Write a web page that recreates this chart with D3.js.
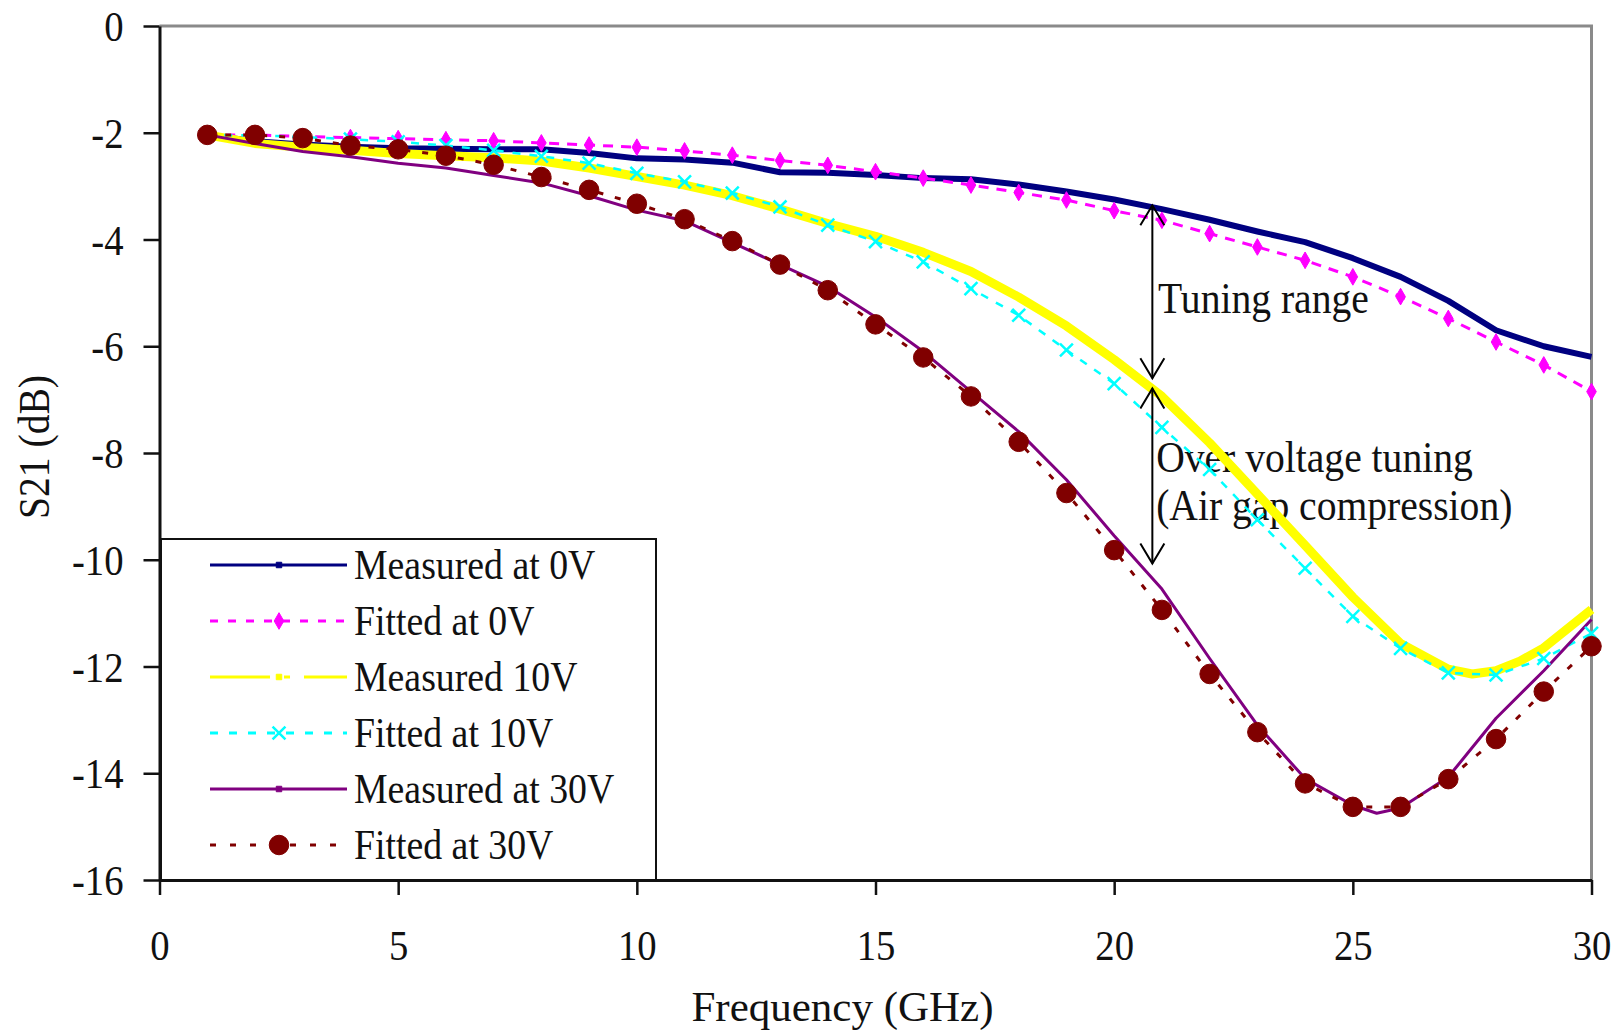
<!DOCTYPE html>
<html>
<head>
<meta charset="utf-8">
<script src="https://cdn.jsdelivr.net/npm/d3@7"></script>
<style>
  html, body { margin: 0; padding: 0; background: #fff; }
  svg { display: block; }
</style>
</head>
<body>
<svg id="chart" width="1614" height="1033"></svg>
<script>
// ---- data ----
var fitFreq = [1, 2, 3, 4, 5, 6, 7, 8, 9, 10, 11, 12, 13, 14, 15, 16, 17, 18, 19, 20, 21, 22, 23, 24, 25, 26, 27, 28, 29, 30];

var meas0Freq = [1, 2, 3, 4, 5, 6, 7, 8, 9, 10, 11, 12, 13, 14, 15, 16, 17, 18, 19, 20, 21, 22, 23, 24, 25, 26, 27, 28, 29, 30];
var meas0V = [-2.04, -2.16, -2.22, -2.26, -2.29, -2.30, -2.31, -2.31, -2.38, -2.48, -2.50, -2.56, -2.74, -2.75, -2.79,
  -2.85, -2.87, -2.97, -3.10, -3.25, -3.43, -3.63, -3.85, -4.05, -4.35, -4.70, -5.15, -5.70, -6.00, -6.20];

var fit0V = [-2.04, -2.04, -2.07, -2.09, -2.11, -2.13, -2.15, -2.19, -2.23, -2.27, -2.34, -2.42, -2.52, -2.61, -2.73,
  -2.85, -2.98, -3.12, -3.26, -3.46, -3.64, -3.89, -4.14, -4.39, -4.70, -5.07, -5.48, -5.92, -6.35, -6.85];

var meas10Freq = [1, 2, 3, 4, 5, 6, 7, 8, 9, 10, 11, 12, 13, 14, 15, 16, 17, 18, 19, 20, 21, 22, 23, 24, 25, 26, 27, 27.5, 28, 28.5, 29, 30];
var meas10V = [-2.04, -2.20, -2.27, -2.33, -2.39, -2.43, -2.47, -2.53, -2.66, -2.82, -2.98, -3.18, -3.43, -3.70, -3.94,
  -4.24, -4.60, -5.08, -5.62, -6.25, -6.94, -7.81, -8.77, -9.73, -10.70, -11.57, -12.05, -12.14, -12.08, -11.90, -11.65, -10.93];

var fit10V = [-2.04, -2.05, -2.08, -2.12, -2.17, -2.24, -2.33, -2.44, -2.57, -2.76, -2.92, -3.13, -3.39, -3.73, -4.04,
  -4.42, -4.92, -5.42, -6.07, -6.70, -7.52, -8.31, -9.25, -10.16, -11.06, -11.66, -12.12, -12.16, -11.85, -11.38];

var meas30Freq = [1, 2, 3, 4, 5, 6, 7, 8, 9, 10, 11, 12, 13, 14, 15, 16, 17, 18, 19, 20, 21, 22, 23, 24, 25, 25.5, 26, 27, 28, 29, 30];
var meas30V = [-2.04, -2.20, -2.35, -2.45, -2.57, -2.66, -2.80, -2.94, -3.18, -3.45, -3.65, -4.06, -4.47, -4.88, -5.45,
  -6.10, -6.85, -7.60, -8.50, -9.55, -10.55, -11.85, -13.10, -14.10, -14.60, -14.75, -14.65, -14.07, -12.97, -12.08, -11.12];

var fit30V = [-2.04, -2.04, -2.10, -2.24, -2.31, -2.43, -2.60, -2.83, -3.07, -3.33, -3.62, -4.03, -4.47, -4.95, -5.59,
  -6.21, -6.94, -7.79, -8.75, -9.82, -10.94, -12.14, -13.23, -14.19, -14.63, -14.63, -14.11, -13.36, -12.47, -11.62];

var seriesNames = ['Measured at 0V', 'Fitted at 0V', 'Measured 10V', 'Fitted at 10V', 'Measured at 30V', 'Fitted at 30V'];
var xTicks = [0, 5, 10, 15, 20, 25, 30];
var yTicks = [-16, -14, -12, -10, -8, -6, -4, -2, 0];

// tuning arrows: [freq, from dB, to dB]
var arrows = [[20.8, -3.36, -6.60], [20.8, -6.79, -10.07]];
// annotation texts: [freq, dB baseline, text]
var notes = [[20.92, -5.38, 'Tuning range'], [20.88, -8.35, 'Over voltage tuning'], [20.88, -9.26, '(Air gap compression)']];

!(function(d3) {
    var plot = { left: 159.5, right: 1591.5, top: 26, bottom: 880 };
    var font = '"Liberation Serif", "Times New Roman", serif';
    var squeeze = 'scale(0.9,1)';

    var svg = d3.select('#chart');

    var x = d3.scaleLinear().domain([0, 30]).range([plot.left, plot.right]);
    var y = d3.scaleLinear().domain([-16, 0]).range([plot.bottom, plot.top]);

    var zip = function(fs, vs) {
        return fs.map(function(f, i) { return [f, vs[i]]; });
    };

    var series = [
        { name: seriesNames[0], pts: zip(meas0Freq, meas0V), color: '#000080', width: 6, dash: null, legendDash: null, marker: 'square' },
        { name: seriesNames[1], pts: zip(fitFreq, fit0V), color: '#FF00FF', width: 3, dash: '10,8', legendDash: '8,10', marker: 'diamond' },
        { name: seriesNames[2], pts: zip(meas10Freq, meas10V), color: '#FFFF00', width: 9, dash: null, legendDash: '60,14,6,14', marker: 'square' },
        { name: seriesNames[3], pts: zip(fitFreq, fit10V), color: '#00FFFF', width: 2.5, dash: '8,9', legendDash: '8,11', marker: 'times' },
        { name: seriesNames[4], pts: zip(meas30Freq, meas30V), color: '#800080', width: 3, dash: null, legendDash: null, marker: 'square' },
        { name: seriesNames[5], pts: zip(fitFreq, fit30V), color: '#800000', width: 3, dash: '6,12', legendDash: '6,14', marker: 'circle' }
    ];

    var line = d3.line()
        .x(function(d) { return x(d[0]); })
        .y(function(d) { return y(d[1]); });

    var symbolPath = function(kind) {
        if (kind === 'diamond') { return d3.symbol().type(d3.symbolDiamond).size(80)(); }
        if (kind === 'times') { return d3.symbol().type(d3.symbolTimes).size(110)(); }
        if (kind === 'circle') { return d3.symbol().type(d3.symbolCircle).size(300)(); }
        return d3.symbol().type(d3.symbolSquare).size(30)();
    };

    // plot area border (top and right are grey)
    svg.append('path')
        .attr('d', 'M' + plot.left + ',' + plot.top + 'H' + plot.right + 'V' + plot.bottom)
        .style('fill', 'none')
        .style('stroke', '#8a8a8a')
        .style('stroke-width', 3);

    // annotations text
    var noteLayer = svg.append('g');
    noteLayer.selectAll('text').data(notes).enter().append('text')
        .attr('transform', function(d) { return 'translate(' + x(d[0]) + ',' + y(d[1]) + ') ' + squeeze; })
        .style('font-family', font)
        .style('font-size', '44px')
        .style('fill', '#111')
        .text(function(d) { return d[2]; });

    // series
    var seriesLayer = svg.append('g');
    seriesLayer.selectAll('path').data(series).enter().append('path')
        .attr('d', function(d) { return line(d.pts); })
        .style('fill', 'none')
        .style('stroke', function(d) { return d.color; })
        .style('stroke-width', function(d) { return d.width; })
        .style('stroke-dasharray', function(d) { return d.dash; })
        .style('stroke-linejoin', 'round');

    var markerLayer = svg.append('g');
    series.filter(function(s) { return s.marker !== 'square'; }).forEach(function(s) {
        markerLayer.append('g').selectAll('path').data(s.pts).enter().append('path')
            .attr('transform', function(d) { return 'translate(' + x(d[0]) + ',' + y(d[1]) + ')'; })
            .attr('d', symbolPath(s.marker))
            .style('fill', s.marker === 'times' ? 'none' : s.color)
            .style('stroke', s.color)
            .style('stroke-width', s.marker === 'times' ? 2.5 : 1);
    });

    // arrows
    var arrowLayer = svg.append('g')
        .style('stroke', '#000')
        .style('stroke-width', 2)
        .style('fill', 'none');
    arrows.forEach(function(a) {
        var ax = x(a[0]), y1 = y(a[1]), y2 = y(a[2]);
        arrowLayer.append('line').attr('x1', ax).attr('x2', ax).attr('y1', y1).attr('y2', y2);
        arrowLayer.append('path')
            .attr('d', 'M' + (ax - 12) + ',' + (y1 + 20) + 'L' + ax + ',' + y1 + 'L' + (ax + 12) + ',' + (y1 + 20));
        arrowLayer.append('path')
            .attr('d', 'M' + (ax - 12) + ',' + (y2 - 20) + 'L' + ax + ',' + y2 + 'L' + (ax + 12) + ',' + (y2 - 20));
    });

    // axes (plain hyphen for negatives, as in the original)
    var plain = function(d) { return '' + d; };
    var xAxis = d3.axisBottom(x).tickValues(xTicks).tickFormat(plain).tickSize(15).tickSizeOuter(0);
    var yAxis = d3.axisLeft(y).tickValues(yTicks).tickFormat(plain).tickSize(16).tickSizeOuter(0);

    var gx = svg.append('g')
        .attr('transform', 'translate(0,' + plot.bottom + ')')
        .call(xAxis);
    var gy = svg.append('g')
        .attr('transform', 'translate(' + plot.left + ',0)')
        .call(yAxis);

    [gx, gy].forEach(function(g) {
        g.select('path.domain').style('stroke', '#111').style('stroke-width', 3);
        g.selectAll('.tick line').style('stroke', '#111').style('stroke-width', 2.5);
        g.selectAll('.tick text')
            .style('font-family', font)
            .style('font-size', '43px')
            .style('fill', '#111')
            .attr('transform', squeeze);
    });
    gx.selectAll('.tick text').attr('y', 80).attr('dy', 0);
    gy.selectAll('.tick text').attr('x', -36 / 0.9).attr('dy', '0.34em');

    // axis titles
    svg.append('text')
        .attr('x', 842.5).attr('y', 1021)
        .attr('text-anchor', 'middle')
        .style('font-family', font)
        .style('font-size', '43px')
        .style('fill', '#111')
        .text('Frequency (GHz)');
    svg.append('text')
        .attr('transform', 'translate(49,447) rotate(-90) ' + squeeze)
        .attr('text-anchor', 'middle')
        .style('font-family', font)
        .style('font-size', '44px')
        .style('fill', '#111')
        .text('S21 (dB)');

    // legend
    var legend = svg.append('g');
    legend.append('rect')
        .attr('x', 161).attr('y', 539)
        .attr('width', 495).attr('height', plot.bottom - 539)
        .style('fill', '#fff')
        .style('stroke', '#111')
        .style('stroke-width', 2);
    var items = legend.selectAll('g.item').data(series).enter().append('g')
        .attr('class', 'item')
        .attr('transform', function(d, i) { return 'translate(0,' + (565 + i * 56) + ')'; });
    items.append('line')
        .attr('x1', 210).attr('x2', 347).attr('y1', 0).attr('y2', 0)
        .style('stroke', function(d) { return d.color; })
        .style('stroke-width', 3)
        .style('stroke-dasharray', function(d) { return d.legendDash; });
    items.append('path')
        .attr('transform', 'translate(279,0)')
        .attr('d', function(d) { return symbolPath(d.marker); })
        .style('fill', function(d) { return d.marker === 'times' ? 'none' : d.color; })
        .style('stroke', function(d) { return d.color; })
        .style('stroke-width', function(d) { return d.marker === 'times' ? 2.5 : 1; });
    items.append('text')
        .attr('transform', 'translate(354,14) ' + squeeze)
        .style('font-family', font)
        .style('font-size', '42px')
        .style('fill', '#111')
        .text(function(d) { return d.name; });
}(d3));
</script>
</body>
</html>
